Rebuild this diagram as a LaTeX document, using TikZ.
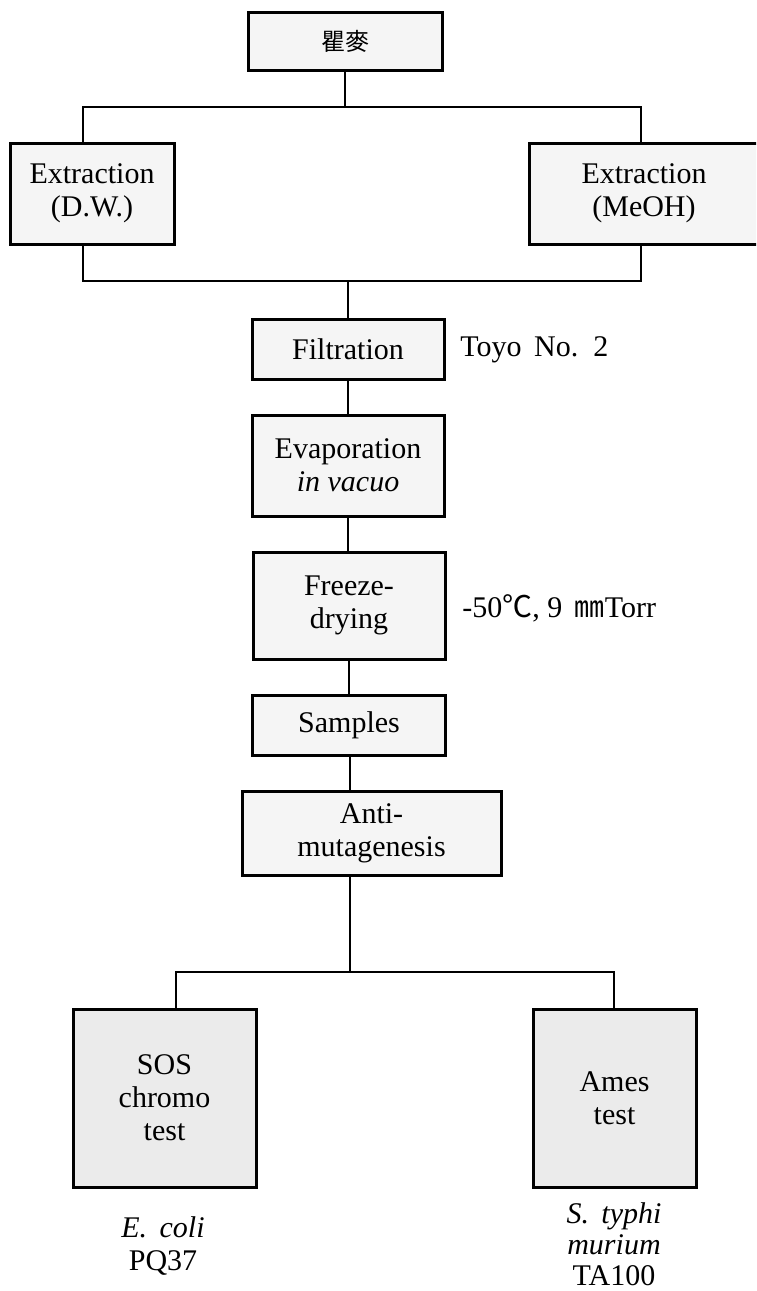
\documentclass[tikz,border=0pt]{standalone}
\usepackage{fontspec}
\setmainfont{Liberation Serif}
\newfontfamily\cjk{Noto Sans CJK KR}
\begin{document}
\begin{tikzpicture}[x=0.5pt,y=-0.5pt,
  box/.style={draw, line width=1.5pt, fill=black!4, align=center, inner sep=0pt,
    font=\fontsize{15}{16.5}\selectfont},
  tbox/.style={box, fill=black!8},
  conn/.style={line width=1.1pt},
  lbl/.style={align=center, inner sep=0pt, font=\fontsize{15}{16.5}\selectfont}]
\useasboundingbox (0,0) rectangle (756,1291);
\clip (0,0) rectangle (756,1291);
\fill[white] (0,0) rectangle (756,1291);

% nodes
\node[box, minimum width=97pt, minimum height=29pt, font=\cjk\fontsize{12}{14}\selectfont] (top) at (345,41) {瞿麥};
\node[box, minimum width=82pt, minimum height=50.5pt] (dw) at (92,193.5) {Extraction\\(D.W.)};
\node[box, minimum width=115pt, minimum height=50.5pt] (meoh) at (644,193.5) {Extraction\\(MeOH)};
\node[box, minimum width=96pt, minimum height=30pt] (filt) at (348,349) {Filtration};
\node[lbl, anchor=west] (toyo) at (460,350) {Toyo\, No.\, 2};
\node[box, minimum width=96pt, minimum height=50.5pt] (evap) at (348,465.5) {Evaporation\\\textit{in vacuo}};
\node[box, minimum width=96pt, minimum height=53.5pt] (freeze) at (349,605.5) {Freeze-\\drying};
\node[lbl, anchor=west] (cond) at (462,608) {-50{\cjk ℃}, 9\, {\cjk ㎜}Torr};
\node[box, minimum width=96.5pt, minimum height=30pt] (samp) at (349,725) {Samples};
\node[box, minimum width=129.5pt, minimum height=42pt] (anti) at (371.5,833) {Anti-\\mutagenesis};
\node[tbox, minimum width=91.5pt, minimum height=89pt] (sos) at (164.5,1098) {SOS\\chromo\\test};
\node[tbox, minimum width=81.5pt, minimum height=89pt] (ames) at (614.5,1098) {Ames\\test};
\node[lbl] (ecoli) at (163,1246) {\textit{E.\, coli}\\PQ37};
\node[lbl, font=\fontsize{15}{15.5}\selectfont] (styphi) at (614,1244) {\textit{S.\, typhi}\\\textit{murium}\\TA100};

% connectors
\coordinate (jt) at (345,107);
\coordinate (jtl) at (83,107);
\coordinate (jtr) at (641,107);
\draw[conn] (top.south) -- (jt);
\draw[conn] (jtl |- dw.north) -- (jtl) -- (jtr) -- (jtr |- meoh.north);
\coordinate (jbl) at (83,281);
\coordinate (jbr) at (641,281);
\coordinate (jb) at (348,281);
\draw[conn] (jbl |- dw.south) -- (jbl) -- (jbr) -- (jbr |- meoh.south);
\draw[conn] (jb) -- (filt.north);
\draw[conn] (filt.south) -- (evap.north);
\draw[conn] (evap.south) -- (evap.south |- freeze.north);
\draw[conn] (freeze.south) -- (freeze.south |- samp.north);
\coordinate (ja) at (350,972);
\coordinate (jal) at (176,972);
\coordinate (jar) at (614,972);
\draw[conn] (samp.south -| ja) -- (ja |- anti.north);
\draw[conn] (ja |- anti.south) -- (ja);
\draw[conn] (jal |- sos.north) -- (jal) -- (jar) -- (jar |- ames.north);
\end{tikzpicture}
\end{document}
